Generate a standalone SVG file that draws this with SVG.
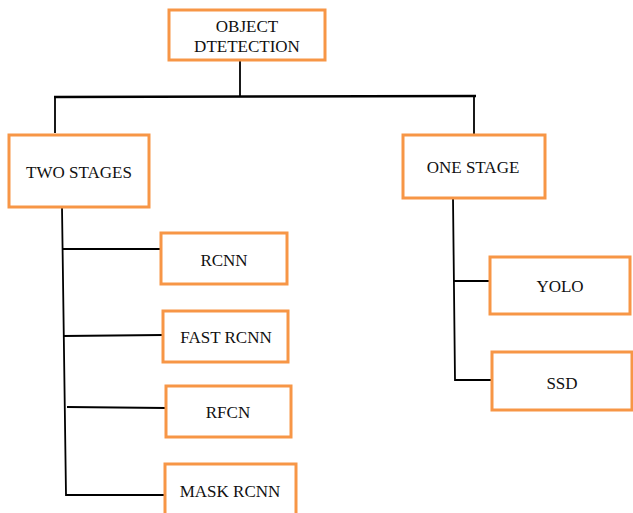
<svg xmlns="http://www.w3.org/2000/svg" width="633" height="513" viewBox="0 0 633 513">
<style>
.box{fill:#fff;stroke:#F79646;stroke-width:3}
.t{font-family:"Liberation Serif","Times New Roman",serif;font-size:17px;fill:#111;text-anchor:middle}
.c{stroke:#000;stroke-width:1.8;fill:none}
.ct{stroke:#000;stroke-width:2.6;fill:none}
</style>
<rect width="633" height="513" fill="#fff"/>
<g id="connectors">
<line class="c" x1="240" y1="60" x2="240" y2="97"/>
<line class="ct" x1="54" y1="97" x2="476" y2="96"/>
<line class="c" x1="55" y1="97" x2="55" y2="133"/>
<line class="c" x1="474" y1="96" x2="474" y2="135"/>
<polyline class="c" points="62,207 66,495 170,495"/>
<line class="c" x1="62" y1="249" x2="161" y2="249"/>
<line class="c" x1="63" y1="336" x2="163" y2="335"/>
<line class="c" x1="67" y1="407" x2="166" y2="408"/>
<polyline class="c" points="453,198 455,380 492,380"/>
<line class="c" x1="454" y1="281" x2="490" y2="281"/>
</g>
<g id="object-detection"><rect class="box" x="169" y="10" width="156" height="50"/><text class="t" x="247" y="32">OBJECT</text><text class="t" x="247" y="52">DTETECTION</text></g>
<g id="two-stages"><rect class="box" x="9" y="135" width="140" height="72"/><text class="t" x="79" y="178">TWO STAGES</text></g>
<g id="one-stage"><rect class="box" x="403" y="135" width="142" height="63"/><text class="t" x="473" y="173">ONE STAGE</text></g>
<g id="rcnn"><rect class="box" x="161" y="233" width="126" height="51"/><text class="t" x="224" y="266">RCNN</text></g>
<g id="fast-rcnn"><rect class="box" x="163" y="311" width="125" height="51"/><text class="t" x="226" y="343">FAST RCNN</text></g>
<g id="rfcn"><rect class="box" x="166" y="386" width="125" height="51"/><text class="t" x="228" y="418">RFCN</text></g>
<g id="mask-rcnn"><rect class="box" x="165" y="464" width="131" height="60"/><text class="t" x="230" y="497">MASK RCNN</text></g>
<g id="yolo"><rect class="box" x="490" y="257" width="140" height="57"/><text class="t" x="560" y="292">YOLO</text></g>
<g id="ssd"><rect class="box" x="492" y="352" width="140" height="58"/><text class="t" x="562" y="389">SSD</text></g>
</svg>
